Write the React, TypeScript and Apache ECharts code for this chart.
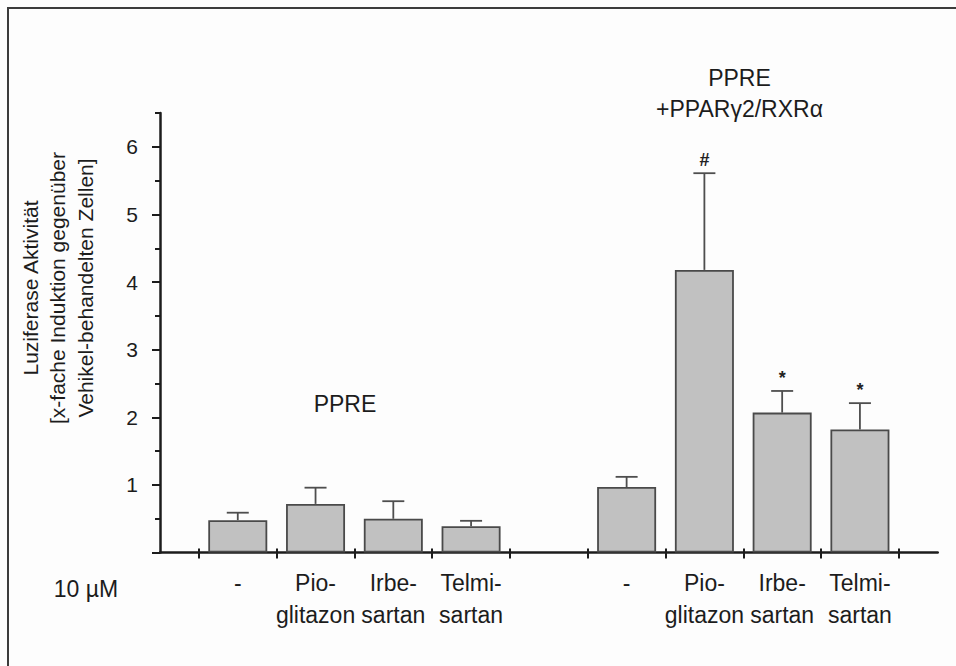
import React, { useEffect, useRef } from "react";
import * as echarts from "echarts";

// Treatments shown under each reporter group (10 µM each)
const treatments = ["-", "Pio-\nglitazon", "Irbe-\nsartan", "Telmi-\nsartan"];

// PPRE reporter alone
const ppreMean = [0.48, 0.72, 0.5, 0.39];
const ppreErr = [0.11, 0.24, 0.26, 0.08];
const ppreMarks = ["", "", "", ""];

// PPRE reporter + PPARγ2/RXRα
const ppargMean = [0.97, 4.18, 2.07, 1.82];
const ppargErr = [0.15, 1.43, 0.32, 0.39];
const ppargMarks = ["", "#", "*", "*"];

// y axis ticks and labels
const yMajorTicks = [0, 1, 2, 3, 4, 5, 6];
const yLabelValues = [1, 2, 3, 4, 5, 6];
const yMinorTicks = [0.5, 1.5, 2.5, 3.5, 4.5, 5.5, 6.5];
const yMax = 6.5;

const FONT = '"Liberation Sans", Arial, Helvetica, sans-serif';
const INK = "#1c1c1c";

// one empty slot separates the two groups
const groupStart = [0, treatments.length + 1];
const slotLabels = [...treatments, "", ...treatments];

const rows = [
  ...ppreMean.map((m, i) => ({ x: groupStart[0] + i, mean: m, err: ppreErr[i], mark: ppreMarks[i] })),
  ...ppargMean.map((m, i) => ({ x: groupStart[1] + i, mean: m, err: ppargErr[i], mark: ppargMarks[i] })),
];

const slotBounds = Array.from({ length: slotLabels.length + 1 }, (_, i) => i - 0.5);
const labelSlots = slotLabels.map((l, i) => (l ? i : -1)).filter((i) => i >= 0);

export default function App() {
  const ref = useRef<HTMLDivElement>(null);

  useEffect(() => {
    if (!ref.current) return;
    const chart = echarts.init(ref.current, undefined, { renderer: "svg" });

    const xBase = { type: "value", min: -1, max: slotLabels.length, gridIndex: 0, position: "bottom" };
    const yBase = { type: "value", min: 0, max: yMax, position: "left" };
    const tickLine = { color: INK, width: 2 };

    chart.setOption({
      animation: false,
      backgroundColor: "#fdfdfd",
      grid: { left: 160, right: 18.3, top: 113, bottom: 113.4 },
      xAxis: [
        {
          ...xBase,
          axisLine: { show: true, onZero: false, lineStyle: { color: INK, width: 2.5 } },
          axisTick: { show: true, customValues: slotBounds, length: 6, lineStyle: tickLine },
          axisLabel: {
            show: true,
            customValues: labelSlots,
            formatter: (v: number) => slotLabels[Math.round(v)] ?? "",
            fontFamily: FONT,
            fontSize: 23,
            lineHeight: 32,
            margin: 14,
            color: INK,
          },
          splitLine: { show: false },
        },
        {
          ...xBase,
          axisLine: { show: false, onZero: false },
          axisTick: { show: true, inside: true, customValues: slotBounds, length: 4, lineStyle: tickLine },
          axisLabel: { show: false },
          splitLine: { show: false },
        },
      ],
      yAxis: [
        {
          ...yBase,
          axisLine: { show: true, onZero: false, lineStyle: { color: INK, width: 2.5 } },
          axisTick: { show: true, customValues: yMajorTicks, length: 8, lineStyle: tickLine },
          axisLabel: {
            show: true,
            customValues: yLabelValues,
            formatter: (v: number) => String(v),
            fontFamily: FONT,
            fontSize: 21,
            margin: 22,
            color: INK,
          },
          splitLine: { show: false },
        },
        {
          ...yBase,
          axisLine: { show: false, onZero: false },
          axisTick: { show: true, customValues: yMinorTicks, length: 5, lineStyle: tickLine },
          axisLabel: { show: false },
          splitLine: { show: false },
        },
      ],
      series: [
        {
          type: "bar",
          xAxisIndex: 0,
          yAxisIndex: 0,
          barWidth: 59,
          data: rows.map((r) => [r.x, r.mean]),
          itemStyle: { color: "#c1c1c1", borderColor: "#4a4a4a", borderWidth: 1.8 },
          z: 2,
        },
        {
          type: "custom",
          xAxisIndex: 0,
          yAxisIndex: 0,
          z: 3,
          encode: { x: 0, y: 1 },
          data: rows.map((r) => [r.x, r.mean, r.err]),
          renderItem: (params: any, api: any) => {
            const x = api.value(0);
            const m = api.value(1);
            const e = api.value(2);
            const base = api.coord([x, m]);
            const top = api.coord([x, m + e]);
            const stroke = { stroke: "#4e4e4e", lineWidth: 1.8 };
            const children: any[] = [
              { type: "line", shape: { x1: base[0], y1: base[1], x2: top[0], y2: top[1] }, style: stroke },
              { type: "line", shape: { x1: top[0] - 11, y1: top[1], x2: top[0] + 11, y2: top[1] }, style: stroke },
            ];
            const mark = rows[params.dataIndex].mark;
            if (mark) {
              children.push({
                type: "text",
                x: top[0],
                y: top[1] - 4,
                style: {
                  text: mark,
                  fill: "#222",
                  fontFamily: FONT,
                  fontSize: 18,
                  fontWeight: "bold",
                  align: "center",
                  verticalAlign: "bottom",
                },
              });
            }
            return { type: "group", children };
          },
        },
      ],
      graphic: [
        // frame
        { type: "line", shape: { x1: 7, y1: 8, x2: 956, y2: 8 }, style: { stroke: "#3c3c3c", lineWidth: 2 } },
        { type: "line", shape: { x1: 8, y1: 7, x2: 8, y2: 666 }, style: { stroke: "#3c3c3c", lineWidth: 2 } },
        // axis title
        {
          type: "text",
          x: 57.5,
          y: 288,
          rotation: Math.PI / 2,
          style: {
            text: "Luziferase Aktivität\n[x-fache Induktion gegenüber\nVehikel-behandelten Zellen]",
            fill: INK,
            fontFamily: FONT,
            fontSize: 21,
            lineHeight: 27.5,
            align: "center",
            verticalAlign: "middle",
          },
        },
        // group labels
        {
          type: "text",
          x: 345,
          y: 404,
          style: { text: "PPRE", fill: INK, fontFamily: FONT, fontSize: 23, align: "center", verticalAlign: "middle" },
        },
        {
          type: "text",
          x: 739.5,
          y: 93.5,
          style: {
            text: "PPRE\n+PPARγ2/RXRα",
            fill: INK,
            fontFamily: FONT,
            fontSize: 23,
            lineHeight: 31,
            align: "center",
            verticalAlign: "middle",
          },
        },
        {
          type: "text",
          x: 86,
          y: 588.5,
          style: { text: "10 µM", fill: INK, fontFamily: FONT, fontSize: 23, align: "center", verticalAlign: "middle" },
        },
      ],
    });

    return () => chart.dispose();
  }, []);

  return (
    <div
      ref={ref}
      style={{ position: "absolute", left: 0, top: 0, width: 956, height: 666 }}
    />
  );
}
